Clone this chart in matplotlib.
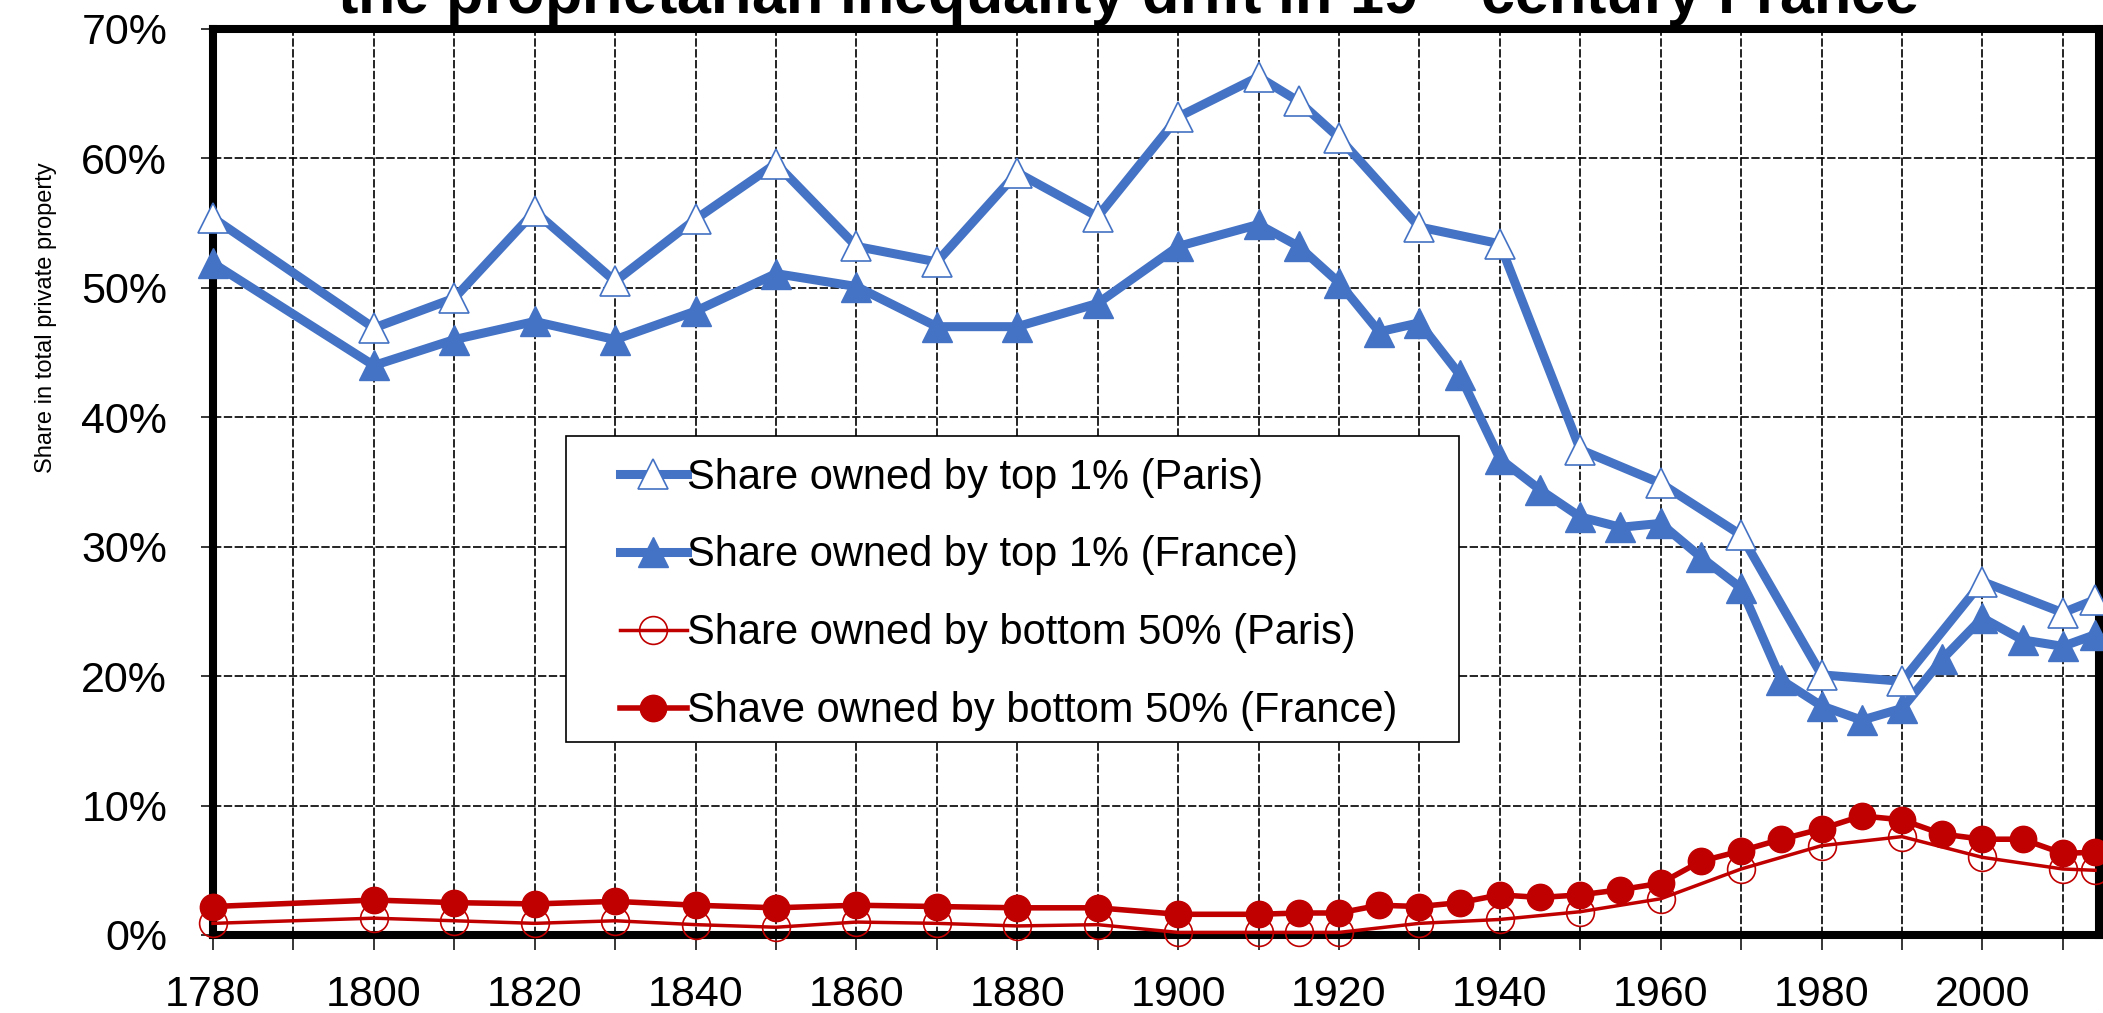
import matplotlib
matplotlib.use('Agg')
import matplotlib.pyplot as plt
from matplotlib.patches import Rectangle
from matplotlib.ticker import MultipleLocator, FuncFormatter

plt.rcParams['font.family'] = ['Liberation Sans', 'DejaVu Sans']

# share of top 1% in Paris
years_top_paris = [1780, 1800, 1810, 1820, 1830, 1840, 1850, 1860, 1870, 1880, 1890, 1900,
                   1910, 1915, 1920, 1930, 1940, 1950, 1960, 1970, 1980, 1990, 2000, 2010, 2014]
top_paris = [55.4, 46.9, 49.2, 55.9, 50.5, 55.3, 59.6, 53.2, 52.0, 58.9, 55.5, 63.2,
             66.3, 64.4, 61.6, 54.7, 53.4, 37.5, 34.9, 30.9, 20.1, 19.6, 27.3, 24.9, 25.9]

# share of top 1% in France
years_france = [1780, 1800, 1810, 1820, 1830, 1840, 1850, 1860, 1870, 1880, 1890, 1900,
                1910, 1915, 1920, 1925, 1930, 1935, 1940, 1945, 1950, 1955, 1960, 1965,
                1970, 1975, 1980, 1985, 1990, 1995, 2000, 2005, 2010, 2014]
top_france = [51.9, 44.0, 46.0, 47.4, 46.0, 48.2, 51.1, 50.1, 47.0, 47.0, 48.8, 53.2,
              54.9, 53.2, 50.4, 46.6, 47.3, 43.3, 36.8, 34.4, 32.3, 31.5, 31.8, 29.2,
              26.8, 19.7, 17.7, 16.6, 17.5, 21.3, 24.5, 22.8, 22.3, 23.2]

# share of bottom 50% in Paris
years_bottom_paris = [1780, 1800, 1810, 1820, 1830, 1840, 1850, 1860, 1870, 1880, 1890, 1900,
                      1910, 1915, 1920, 1930, 1940, 1950, 1960, 1970, 1980, 1990, 2000, 2010, 2014]
bottom_paris = [0.9, 1.3, 1.1, 0.9, 1.1, 0.8, 0.6, 1.0, 0.9, 0.7, 0.8, 0.2,
                0.2, 0.2, 0.2, 0.9, 1.2, 1.8, 2.8, 5.1, 6.9, 7.6, 6.0, 5.1, 5.0]

# share of bottom 50% in France
bottom_france = [2.2, 2.7, 2.5, 2.4, 2.6, 2.3, 2.1, 2.3, 2.2, 2.1, 2.1, 1.6,
                 1.6, 1.7, 1.7, 2.3, 2.2, 2.5, 3.1, 2.9, 3.1, 3.5, 4.0, 5.7,
                 6.5, 7.4, 8.2, 9.2, 8.9, 7.8, 7.4, 7.4, 6.3, 6.4]

labels = ['Share owned by top 1% (Paris)',
          'Share owned by top 1% (France)',
          'Share owned by bottom 50% (Paris)',
          'Shave owned by bottom 50% (France)']

blue = '#4472C4'
red = '#C00000'

fig = plt.figure(figsize=(21.03, 10.13), dpi=100)
ax = fig.add_axes([0.1013, 0.0770, 0.8968, 0.8944])

ax.plot(years_top_paris, top_paris, color=blue, lw=6.5, marker='^', ms=22,
        mfc='white', mec=blue, mew=1.2, clip_on=False, zorder=4, label=labels[0])
ax.plot(years_france, top_france, color=blue, lw=6.5, marker='^', ms=22,
        mfc=blue, mec=blue, clip_on=False, zorder=3, label=labels[1])
ax.plot(years_bottom_paris, bottom_paris, color=red, lw=2.5, marker='o', ms=20,
        mfc='none', mec=red, mew=1.2, clip_on=False, zorder=3, label=labels[2])
ax.plot(years_france, bottom_france, color=red, lw=4, marker='o', ms=19,
        mfc=red, mec=red, clip_on=False, zorder=4, label=labels[3])

ax.set_xlim(1780, 2014.5)
ax.set_ylim(0, 70)
ax.xaxis.set_major_locator(MultipleLocator(20))
ax.xaxis.set_minor_locator(MultipleLocator(10))
ax.yaxis.set_major_locator(MultipleLocator(10))
ax.yaxis.set_major_formatter(FuncFormatter(lambda v, p: '%d%%' % round(v)))

ax.tick_params(axis='x', which='both', direction='out', length=11, width=1.1,
               labelsize=31, pad=18)
ax.tick_params(axis='y', direction='out', length=9, width=1.1, labelsize=31, pad=24)

ax.set_axisbelow(True)
ax.grid(True, which='both', axis='x', color='black', lw=1.2, ls=(0, (5, 1.5)))
ax.grid(True, which='major', axis='y', color='black', lw=1.2, ls=(0, (5, 1.5)))

for s in ax.spines.values():
    s.set_linewidth(5.8)
    s.set_color('black')

ax.set_ylabel('Share in total private property', fontsize=17)
ax.yaxis.set_label_coords(-0.0827, 0.681)

# legend box, wider than the entries themselves
ax.add_patch(Rectangle((0.1872, 0.2130), 0.6607 - 0.1872, 0.5508 - 0.2130,
                       transform=ax.transAxes, facecolor='white', edgecolor='black',
                       lw=1.2, zorder=5))
leg = ax.legend(loc='upper left', bbox_to_anchor=(0.2047, 0.55), fontsize=30,
                frameon=False, borderaxespad=0, handlelength=1.6, handletextpad=0.0,
                labelspacing=0.91, borderpad=0.5, numpoints=1)
leg.set_zorder(6)

fig.text(0.536, 1 - 13 / 1013, r'the proprietarian inequality drift in 19$^{\rm th}$ century France',
         ha='center', va='baseline', fontsize=44, fontweight='bold')

fig.savefig('out.png', dpi=100)
